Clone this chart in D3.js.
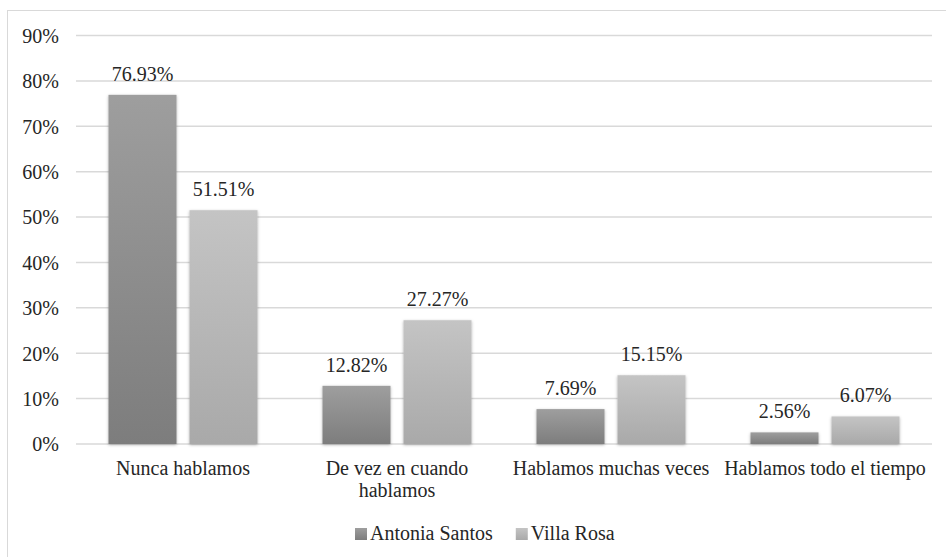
<!DOCTYPE html>
<html>
<head>
<meta charset="utf-8">
<script src="https://cdn.jsdelivr.net/npm/d3@7/dist/d3.min.js"></script>
<style>
  html, body { margin: 0; padding: 0; background: #fff; }
  svg { display: block; }
</style>
</head>
<body>
<svg id="chart" width="946" height="557"></svg>
<script>
// Survey categories and the share of answers per school
const categories = ["Nunca hablamos", "De vez en cuando hablamos", "Hablamos muchas veces", "Hablamos todo el tiempo"];
const seriesNames = ["Antonia Santos", "Villa Rosa"];
const antoniaSantos = [76.93, 12.82, 7.69, 2.56];
const villaRosa = [51.51, 27.27, 15.15, 6.07];
const yTicks = [0, 10, 20, 30, 40, 50, 60, 70, 80, 90];

const FONT = "'Liberation Serif'";
const INK = "#262626";

const svg = d3.select("#chart");
const W = 946, H = 557;
const m = { left: 76, right: 14, top: 35.5, bottom: 113 };
const plotW = W - m.left - m.right;   // 856
const y0 = H - m.bottom;              // 444

function styleText(sel) {
  return sel.style("font-family", FONT).style("font-size", "20px").style("fill", INK);
}

// Frame around the chart area
svg.append("rect")
  .attr("x", 7.5).attr("y", 10.5)
  .attr("width", W + 20).attr("height", H + 20)
  .attr("fill", "#fff").attr("stroke", "#d9d9d9").attr("stroke-width", 1);

const defs = svg.append("defs");
function grad(id, top, bottom) {
  const g = defs.append("linearGradient").attr("id", id)
    .attr("x1", 0).attr("y1", 0).attr("x2", 0).attr("y2", 1);
  g.append("stop").attr("offset", "0%").attr("stop-color", top);
  g.append("stop").attr("offset", "100%").attr("stop-color", bottom);
}
grad("g0", "#9e9e9e", "#7d7d7d");
grad("g1", "#c4c4c4", "#a9a9a9");
const f = defs.append("filter").attr("id", "sh")
  .attr("x", "-20%").attr("y", "-20%").attr("width", "140%").attr("height", "140%");
f.append("feDropShadow").attr("dx", 0).attr("dy", 1).attr("stdDeviation", 1.6)
  .attr("flood-color", "#000").attr("flood-opacity", 0.3);

const x = d3.scaleBand().domain(categories).range([m.left, m.left + plotW]).padding(0);
const y = d3.scaleLinear().domain([0, 90]).range([y0, m.top]);

// Horizontal grid lines
svg.append("g").selectAll("line").data(yTicks).join("line")
  .attr("x1", m.left).attr("x2", m.left + plotW)
  .attr("y1", d => y(d)).attr("y2", d => y(d))
  .attr("stroke", "#d9d9d9").attr("stroke-width", 1.5);

// Y axis labels
const yAxis = d3.axisLeft(y).tickValues(yTicks).tickFormat(d => d + "%").tickSize(0).tickPadding(17);
const ya = svg.append("g").attr("transform", `translate(${m.left},0)`).call(yAxis);
ya.attr("font-family", null).attr("font-size", null);
ya.select(".domain").remove();
styleText(ya.selectAll("text")).attr("dy", "0.34em");

// Bars with value labels
const bw = 68, gap = 13;
const off = (x.bandwidth() - (2 * bw + gap)) / 2;
const series = [antoniaSantos, villaRosa];
const fmt = v => v.toFixed(2) + "%";

series.forEach((vals, si) => {
  const g = svg.append("g");
  g.selectAll("rect").data(vals).join("rect")
    .attr("x", (d, i) => x(categories[i]) + off + si * (bw + gap))
    .attr("y", d => y(d))
    .attr("width", bw)
    .attr("height", d => y0 - y(d))
    .attr("fill", `url(#g${si})`)
    .attr("filter", "url(#sh)");
  styleText(g.selectAll("text").data(vals).join("text"))
    .attr("x", (d, i) => x(categories[i]) + off + si * (bw + gap) + bw / 2)
    .attr("y", d => y(d) - 14)
    .attr("text-anchor", "middle")
    .text(fmt);
});

// Category labels, wrapped to the band width
const xl = svg.append("g");
categories.forEach(c => {
  const cx = x(c) + x.bandwidth() / 2;
  const t = styleText(xl.append("text"))
    .attr("x", cx)
    .attr("y", 475)
    .attr("text-anchor", "middle");
  const words = c.split(" ");
  let line = [];
  let ts = t.append("tspan").attr("x", cx).attr("dy", 0);
  words.forEach(w => {
    line.push(w);
    ts.text(line.join(" "));
    if (ts.node().getComputedTextLength() > x.bandwidth() - 8 && line.length > 1) {
      line.pop();
      ts.text(line.join(" "));
      line = [w];
      ts = t.append("tspan").attr("x", cx).attr("dy", 22).text(w);
    }
  });
});

// Legend
const lg = svg.append("g").attr("transform", "translate(355,0)");
let lx = 0;
seriesNames.forEach((name, i) => {
  lg.append("rect").attr("x", lx).attr("y", 528).attr("width", 12).attr("height", 12)
    .attr("fill", `url(#g${i})`);
  const t = styleText(lg.append("text")).attr("x", lx + 15).attr("y", 540).text(name);
  lx += 15 + t.node().getComputedTextLength() + 23;
});
</script>
</body>
</html>
